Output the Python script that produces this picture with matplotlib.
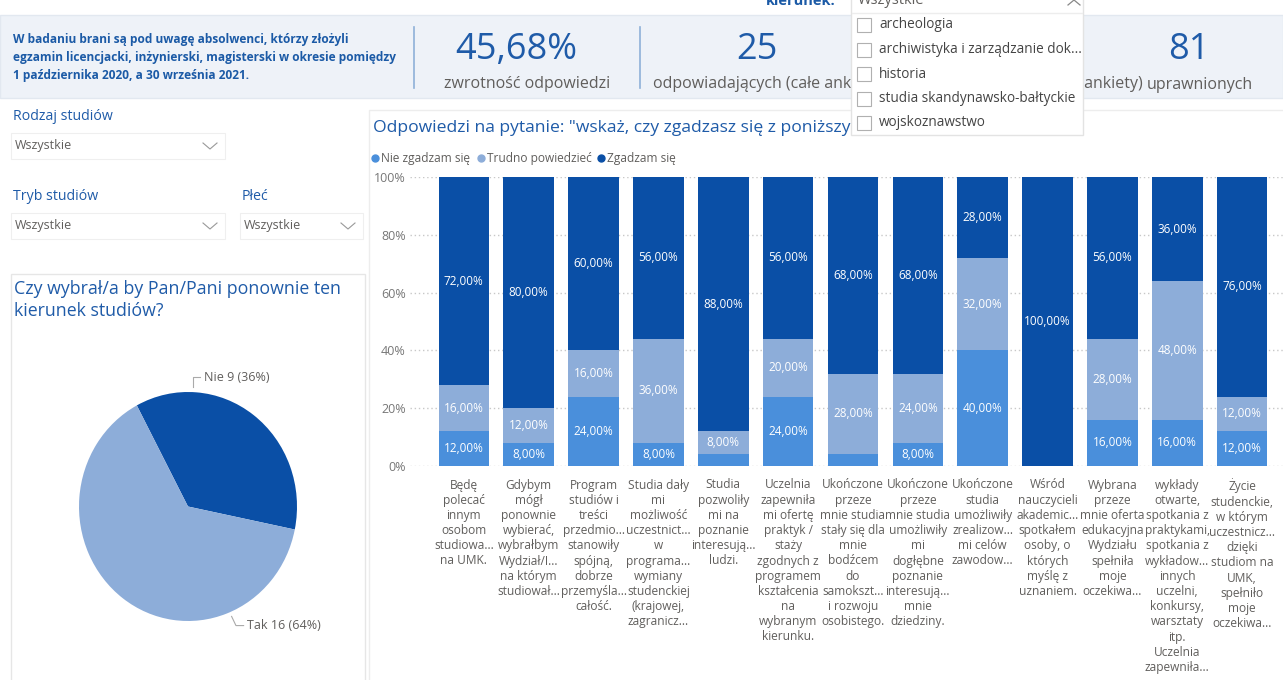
import matplotlib
matplotlib.use("Agg")
import matplotlib.pyplot as plt
from matplotlib.patches import Rectangle
from matplotlib.lines import Line2D
import numpy as np

plt.rcParams['font.family'] = ['Open Sans', 'DejaVu Sans']

# --- data ---------------------------------------------------------------
statements = [
    "Będę\npolecać\ninnym\nosobom\nstudiowa...\nna UMK.",
    "Gdybym\nmógł\nponownie\nwybierać,\nwybrałbym\nWydział/I...\nna którym\nstudiował...",
    "Program\nstudiów i\ntreści\nprzedmio...\nstanowiły\nspójną,\ndobrze\nprzemyśla...\ncałość.",
    "Studia dały\nmi\nmożliwość\nuczestnict...\nw\nprograma...\nwymiany\nstudenckiej\n(krajowej,\nzagranicz...",
    "Studia\npozwoliły\nmi na\npoznanie\ninteresują...\nludzi.",
    "Uczelnia\nzapewniła\nmi ofertę\npraktyk /\nstaży\nzgodnych z\nprogramem\nkształcenia\nna\nwybranym\nkierunku.",
    "Ukończone\nprzeze\nmnie studia\nstały się dla\nmnie\nbodźcem\ndo\nsamokszt...\ni rozwoju\nosobistego.",
    "Ukończone\nprzeze\nmnie studia\numożliwiły\nmi\ndogłębne\npoznanie\ninteresują...\nmnie\ndziedziny.",
    "Ukończone\nstudia\numożliwiły\nzrealizow...\nmi celów\nzawodow...",
    "Wśród\nnauczycieli\nakademic...\nspotkałem\nosoby, o\nktórych\nmyślę z\nuznaniem.",
    "Wybrana\nprzeze\nmnie oferta\nedukacyjna\nWydziału\nspełniła\nmoje\noczekiwa...",
    "wykłady\notwarte,\nspotkania z\npraktykami,\nspotkania z\nwykładow...\ninnych\nuczelni,\nkonkursy,\nwarsztaty\nitp.\nUczelnia\nzapewniła...",
    "Życie\nstudenckie,\nw którym\nuczestnicz...\ndzięki\nstudiom na\nUMK,\nspełniło\nmoje\noczekiwa...",
]
nie_zgadzam = [12, 8, 24, 8, 4, 24, 4, 8, 40, 0, 16, 16, 12]
trudno = [16, 12, 16, 36, 8, 20, 28, 24, 32, 0, 28, 48, 12]
zgadzam = [72, 80, 60, 56, 88, 56, 68, 68, 28, 100, 56, 36, 76]
series_names = ["Nie zgadzam się", "Trudno powiedzieć", "Zgadzam się"]

pie_labels = ["Nie", "Tak"]
pie_counts = [9, 16]

kierunki = ["archeologia", "archiwistyka i zarządzanie dok...", "historia",
            "studia skandynawsko-bałtyckie", "wojskoznawstwo"]

# --- colours ------------------------------------------------------------
c_mid = '#4A8FDB'
c_light = '#8DADD9'
c_dark = '#0A4FA6'
c_title = '#1F5BA8'
c_grey = '#605E5C'
W, H = 1283, 680

fig = plt.figure(figsize=(W / 100, H / 100), dpi=100)
fig.patch.set_facecolor('white')

# background layer in pixel coords
bg = fig.add_axes([0, 0, 1, 1], zorder=0)
bg.set_xlim(0, W); bg.set_ylim(H, 0); bg.axis('off')
bg.add_patch(Rectangle((0, 15), W, 83, facecolor='#EEF2F8', edgecolor='#E2E8F0', lw=1))
for sx in (414, 640):
    bg.plot([sx, sx], [27, 88], color='#8FB0D8', lw=1.2)
bg.text(13, 33, "W badaniu brani są pod uwagę absolwenci, którzy złożyli\n"
        "egzamin licencjacki, inżynierski, magisterski w okresie pomiędzy\n"
        "1 października 2020, a 30 września 2021.",
        fontsize=8.6, fontweight='bold', color='#1B5AA6', va='top', ha='left', linespacing=1.5)
bg.text(516, 50, "45,68%", fontsize=26, color=c_title, ha='center', va='center')
bg.text(527, 84, "zwrotność odpowiedzi", fontsize=11.5, color=c_grey, ha='center', va='center')
bg.text(757, 50, "25", fontsize=26, color=c_title, ha='center', va='center')
bg.text(653, 84, "odpowiadających (całe ankiety)", fontsize=11.5, color=c_grey, ha='left', va='center')
bg.text(1143, 84, "odpowiadających (niepełne ankiety)", fontsize=11.5, color=c_grey, ha='right', va='center')
bg.text(1189, 50, "81", fontsize=26, color=c_title, ha='center', va='center')
bg.text(1200, 85, "uprawnionych", fontsize=11.5, color=c_grey, ha='center', va='center')

# slicers
def slicer(x, y, w, label, value):
    bg.text(x + 2, y - 16, label, fontsize=10.2, color=c_title, ha='left', va='center')
    bg.add_patch(Rectangle((x, y), w, 26, facecolor='white', edgecolor='#EFEFEF', lw=0.8))
    bg.text(x + 4, y + 13, value, fontsize=9, color=c_grey, ha='left', va='center')
    cx = x + w - 15
    bg.plot([cx - 7, cx, cx + 7], [y + 10, y + 16, y + 10], color='#999999', lw=0.8)

slicer(11, 133, 214, "Rodzaj studiów", "Wszystkie")
slicer(11, 213, 214, "Tryb studiów", "Wszystkie")
slicer(240, 213, 123, "Płeć", "Wszystkie")

# panels
bg.add_patch(Rectangle((11, 274), 354, 420, facecolor='white', edgecolor='#E6E6E6', lw=1))
bg.text(14, 300, "Czy wybrał/a by Pan/Pani ponownie ten\nkierunek studiów?", fontsize=12.8,
        color=c_title, ha='left', va='center', linespacing=1.35)
bg.add_patch(Rectangle((369, 110), 930, 600, facecolor='white', edgecolor='#EDEDED', lw=1))
bg.text(373, 128, 'Odpowiedzi na pytanie: "wskaż, czy zgadzasz się z poniższymi stwierdzeniami"',
        fontsize=12.6, color=c_title, ha='left', va='center')

# --- stacked bar chart --------------------------------------------------
ax = fig.add_axes([410 / W, (H - 466) / H, 873 / W, 289 / H], zorder=2)
ax.patch.set_alpha(0)
x = np.arange(len(statements))
bw = 0.78
vals = [nie_zgadzam, trudno, zgadzam]
colors = [c_mid, c_light, c_dark]
bottom = np.zeros(len(x))
for name, v, c in zip(series_names, vals, colors):
    v = np.array(v, dtype=float)
    bars = ax.bar(x, v, bw, bottom=bottom, color=c, label=name, zorder=3)
    labels = [f"{val:.2f}%".replace('.', ',') if val >= 8 else "" for val in v]
    ax.bar_label(bars, labels=labels, label_type='center', color='white', fontsize=8.5)
    bottom += v
ax.set_xlim(-0.83, 12.63)
ax.set_ylim(0, 100)
ax.set_yticks([0, 20, 40, 60, 80, 100])
ax.set_yticklabels(["0%", "20%", "40%", "60%", "80%", "100%"])
ax.grid(axis='y', linestyle=(0, (1, 2)), color='#C8C8C8', lw=1, zorder=0)
ax.set_xticks(x)
ax.set_xticklabels(statements, fontsize=8.6, color=c_grey, linespacing=1.22, va='top')
ax.tick_params(axis='x', length=0, pad=9)
ax.tick_params(axis='y', length=0, labelsize=9, labelcolor='#777777', pad=3)
for s in ax.spines.values():
    s.set_visible(False)
handles = [Line2D([], [], marker='o', ls='', ms=5, color=c) for c in colors]
ax.legend(handles, series_names, loc='lower left', bbox_to_anchor=(-0.043, 1.04), ncol=3,
          frameon=False, handlelength=0.5, handletextpad=0.25, columnspacing=0.6,
          fontsize=8.6, labelcolor=c_grey, borderaxespad=0, borderpad=0)

# --- pie chart ----------------------------------------------------------
pax = fig.add_axes([79 / W, (H - 621) / H, 218 / W, 229 / H], zorder=2)
wedges, _ = pax.pie(pie_counts, colors=[c_dark, c_light], startangle=118,
                    counterclock=False, radius=1.0)
pax.set_aspect('auto')
pax.set_xlim(-1, 1); pax.set_ylim(-1, 1)
total = sum(pie_counts)
pie_texts = [f"{l} {n} ({round(100 * n / total)}%)" for l, n in zip(pie_labels, pie_counts)]
pax.plot([0.046, 0.046, 0.11], [1.04, 1.127, 1.127], color='#AAAAAA', lw=0.8, clip_on=False)
pax.text(0.15, 1.127, pie_texts[0], fontsize=9, color=c_grey, ha='left', va='center')
pax.plot([0.40, 0.44, 0.51], [-0.96, -1.04, -1.04], color='#AAAAAA', lw=0.8, clip_on=False)
pax.text(0.54, -1.04, pie_texts[1], fontsize=9, color=c_grey, ha='left', va='center')

# --- open dropdown overlay ----------------------------------------------
ov = fig.add_axes([0, 0, 1, 1], zorder=10)
ov.set_xlim(0, W); ov.set_ylim(H, 0); ov.axis('off')
ov.text(836, 1, "kierunek:", fontsize=10.5, fontweight='bold', color='#1B5AA6', ha='right', va='center')
ov.add_patch(Rectangle((851, -20), 232, 155, facecolor='white', edgecolor='#E3E3E3', lw=1))
ov.text(858, 1, "Wszystkie", fontsize=10.5, color=c_grey, ha='left', va='center')
ov.plot([1068, 1074, 1080], [5, 0, 5], color='#888888', lw=0.9)
ov.plot([852, 1082], [13, 13], color='#EDEDED', lw=1)
for i, k in enumerate(kierunki):
    yy = 25 + i * 24.5
    ov.add_patch(Rectangle((857, yy - 7), 14, 14, facecolor='white', edgecolor='#B0B0B0', lw=0.8))
    ov.text(879, yy, k, fontsize=9.8, color='#444444', ha='left', va='center')

fig.savefig("out.png", dpi=100)
